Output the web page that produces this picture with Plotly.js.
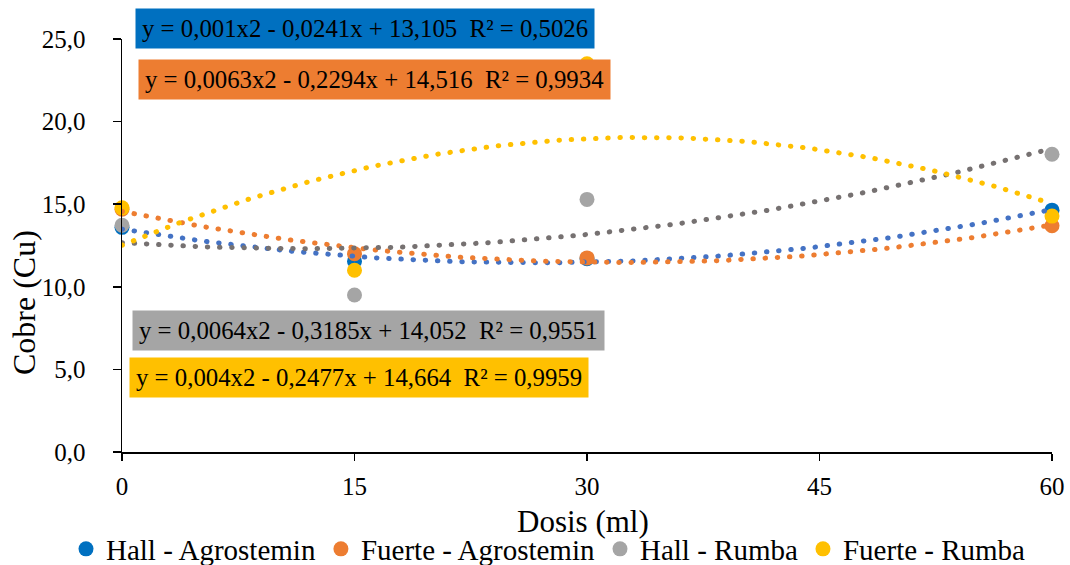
<!DOCTYPE html>
<html>
<head>
<meta charset="utf-8">
<script src="https://cdn.plot.ly/plotly-3.0.1.min.js"></script>
<style>
  html, body { margin: 0; padding: 0; background: #fff; }
  #chart { width: 1070px; height: 565px; }
  .trend .js-line { stroke-linecap: round; }
</style>
</head>
<body>
<div id="chart"></div>
<script>
// ---- data ----
const dosis = [0, 15, 30, 60];
const seriesNames = ["Hall - Agrostemin", "Fuerte - Agrostemin", "Hall - Rumba", "Fuerte - Rumba"];
const hallAgrostemin   = [13.6, 11.55, 11.7, 14.64];
const fuerteAgrostemin = [14.7, 12.0, 11.75, 13.7];
const hallRumba        = [13.73, 9.5, 15.29, 18.02];
const fuerteRumba      = [14.78, 11.0, 23.5, 14.28];
const equationLabels = [
  "y = 0,001x2 - 0,0241x + 13,105&nbsp;&nbsp;R² = 0,5026",
  "y = 0,0063x2 - 0,2294x + 14,516&nbsp;&nbsp;R² = 0,9934",
  "y = 0,0064x2 - 0,3185x + 14,052&nbsp;&nbsp;R² = 0,9551",
  "y = 0,004x2 - 0,2477x + 14,664&nbsp;&nbsp;R² = 0,9959"
];
const yTickVals = [0, 5, 10, 15, 20, 25];
const xTickVals = [0, 15, 30, 45, 60];
const xTitle = "Dosis (ml)";
const yTitle = "Cobre (Cu)";

const seriesValues = [hallAgrostemin, fuerteAgrostemin, hallRumba, fuerteRumba];
const markerColors = ["#0070C0", "#ED7D31", "#A5A5A5", "#FFC000"];
const trendColors  = ["#4472C4", "#ED7D31", "#767171", "#FFC000"];
const labelColors  = ["#0070C0", "#ED7D31", "#A5A5A5", "#FFC000"];
const FAM = "Liberation Serif, Times New Roman, Times, serif";

// least-squares 2nd order polynomial (Excel trendline) from the data
function polyFit2(xs, ys) {
  let S = [0,0,0,0,0], T = [0,0,0];
  for (let i = 0; i < xs.length; i++) {
    let p = 1;
    for (let k = 0; k < 5; k++) { S[k] += p; if (k < 3) T[k] += p * ys[i]; p *= xs[i]; }
  }
  const A = [[S[0],S[1],S[2],T[0]],[S[1],S[2],S[3],T[1]],[S[2],S[3],S[4],T[2]]];
  for (let c = 0; c < 3; c++) {
    for (let r = c + 1; r < 3; r++) {
      const f = A[r][c] / A[c][c];
      for (let k = c; k < 4; k++) A[r][k] -= f * A[c][k];
    }
  }
  const sol = [0,0,0];
  for (let r = 2; r >= 0; r--) {
    let s = A[r][3];
    for (let k = r + 1; k < 3; k++) s -= A[r][k] * sol[k];
    sol[r] = s / A[r][r];
  }
  return sol; // a + b x + c x^2
}

const traces = [];
seriesValues.forEach((vals, i) => {
  traces.push({
    x: dosis, y: vals, type: "scatter", mode: "markers", name: seriesNames[i],
    marker: { color: markerColors[i], size: 15 },
    cliponaxis: false, showlegend: true
  });
});
seriesValues.forEach((vals, i) => {
  const [a, b, c] = polyFit2(dosis, vals);
  const xs = [], ys = [];
  for (let x = dosis[0]; x <= dosis[dosis.length - 1] + 1e-9; x += 0.5) {
    xs.push(x); ys.push(a + b * x + c * x * x);
  }
  traces.push({
    x: xs, y: ys, type: "scatter", mode: "lines", showlegend: false, hoverinfo: "skip",
    line: { color: trendColors[i], width: 5, dash: "0.5px,11.7px" },
    cliponaxis: false
  });
});

const L = 122, R = 1052, T = 39, B = 452;
const W = R - L, H = B - T;
const px = v => (v - L) / W;
const py = v => (B - v) / H;
const labelPos = [[135, 8], [138, 59], [132, 310], [129, 357]];

const annotations = equationLabels.map((t, i) => ({
  text: t, xref: "paper", yref: "paper",
  x: px(labelPos[i][0]), y: py(labelPos[i][1]),
  xanchor: "left", yanchor: "top", showarrow: false,
  bgcolor: labelColors[i], borderpad: 6,
  font: { family: FAM, size: 24.8, color: "#000" }
}));
annotations.push({
  text: yTitle, xref: "paper", yref: "paper",
  x: px(24), y: py(303), xanchor: "center", yanchor: "middle",
  textangle: -90, showarrow: false,
  font: { family: FAM, size: 32, color: "#000" }
});
annotations.push({
  text: xTitle, xref: "paper", yref: "paper",
  x: px(583), y: py(521), xanchor: "center", yanchor: "middle",
  showarrow: false,
  font: { family: FAM, size: 31, color: "#000" }
});

const layout = {
  width: 1070, height: 565,
  margin: { l: L, r: 1070 - R, t: T, b: 565 - B, autoexpand: false },
  paper_bgcolor: "#fff", plot_bgcolor: "#fff",
  separators: ",.",
  font: { family: FAM, size: 24, color: "#000" },
  xaxis: {
    range: [0, 60], tickvals: xTickVals, ticktext: xTickVals.map(String),
    showgrid: false, zeroline: false, showline: true, linecolor: "#000", linewidth: 2,
    ticks: "outside", ticklen: 7, tickwidth: 1.5, tickcolor: "#000",
    tickfont: { family: FAM, size: 25, color: "#000" }, ticklabelstandoff: 4,
    automargin: false
  },
  yaxis: {
    range: [0, 25], tickvals: yTickVals, tickformat: ".1f",
    showgrid: false, zeroline: false, showline: true, linecolor: "#000", linewidth: 1.5,
    ticks: "outside", ticklen: 8, tickwidth: 1.5, tickcolor: "#000",
    tickfont: { family: FAM, size: 25, color: "#000" }, ticklabelstandoff: 22,
    automargin: false
  },
  legend: {
    orientation: "h", x: px(66), xanchor: "left", y: py(549), yanchor: "middle",
    font: { family: FAM, size: 29, color: "#000" }, itemwidth: 30, tracegroupgap: 0,
    bgcolor: "rgba(0,0,0,0)"
  },
  annotations: annotations,
  showlegend: true
};

Plotly.newPlot("chart", traces, layout, { displayModeBar: false, staticPlot: true }).then(() => {
  document.querySelectorAll(".scatterlayer .trace").forEach((g, i) => {
    if (i >= 4) g.classList.add("trend");
  });
});
</script>
</body>
</html>
